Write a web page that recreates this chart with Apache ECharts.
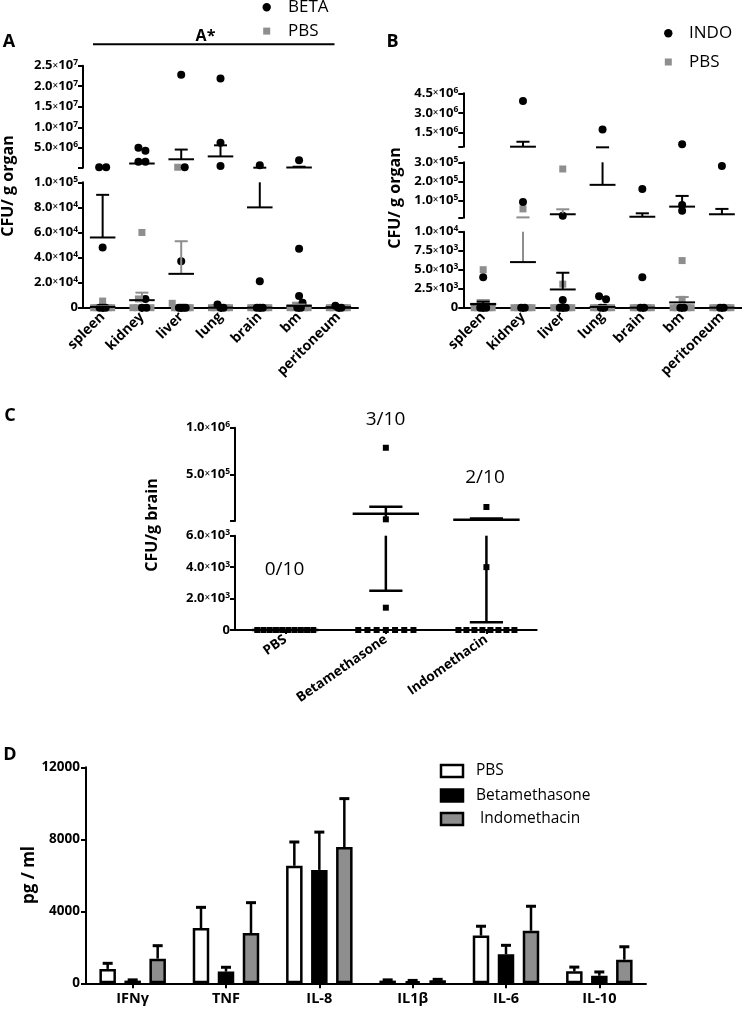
<!DOCTYPE html>
<html><head><meta charset="utf-8">
<script src="https://cdn.jsdelivr.net/npm/echarts@6/dist/echarts.min.js"></script>
<style>html,body{margin:0;padding:0;background:#fff}#c{width:742px;height:1010px}</style>
</head><body><div id="c"></div><script>
// ---------------- DATA ----------------
const organs = ['spleen','kidney','liver','lung','brain','bm','peritoneum'];
// Panel A : BETA (black circles) vs PBS (grey squares), CFU / g organ
const betaA = [
  [2.6e5, 2.6e5, 4.8e4, 0, 0, 0],
  [5.0e6, 4.3e6, 1.6e6, 1.6e6, 7e3, 0, 0],
  [2.28e7, 2.6e5, 3.7e4, 0, 0, 0, 0],
  [2.19e7, 6.2e6, 5.9e5, 2.5e3, 0, 0],
  [7.5e5, 2.1e4, 0, 0, 0],
  [1.95e6, 4.7e4, 9.3e3, 4e3, 0, 0],
  [1.5e3, 0, 0]
];
const pbsA = [
  [5.3e3, 0, 0, 0, 0],
  [6.0e4, 7e3, 0, 0, 0],
  [2.6e5, 3.5e3, 0, 0, 0, 0],
  [0, 0, 0, 0],
  [0, 0, 0, 0],
  [2e3, 0, 0, 0, 0],
  [0, 0, 0, 0]
];
const betaMeanA = [5.6e4, 1.17e6, 2.2e6, 2.9e6, 8.0e4, 2.0e5, 300];
const betaSemA  = [3.4e4, 4.0e5, 2.37e6, 2.7e6, 7.5e4, 1.9e5, 150];
const pbsMeanA  = [600, 6.0e3, 2.7e4, 0, 0, 1.5e3, 0];
const pbsSemA   = [500, 6.0e3, 2.6e4, 0, 0, 1.0e3, 0];

// Panel B : INDO (black circles) vs PBS (grey squares)
const indoB = [
  [4.0e3, 0, 0, 0],
  [3.9e6, 9.2e4, 0, 0],
  [2.05e4, 1.0e3, 0, 0, 0],
  [1.73e6, 1.5e3, 1.1e3, 0, 0],
  [1.6e5, 4.0e3, 0, 0],
  [5.8e5, 7.7e4, 4.7e4, 0, 0],
  [2.8e5, 0, 0]
];
const pbsB = [
  [5.0e3, 0, 0, 0, 0],
  [5.6e4, 0, 0, 0, 0],
  [2.65e5, 3.1e3, 0, 0, 0, 0],
  [0, 0, 0, 0],
  [0, 0, 0, 0],
  [6.2e3, 1.1e3, 0, 0, 0, 0],
  [0, 0, 0, 0]
];
const indoMeanB = [450, 4.0e5, 2.4e3, 1.82e5, 1.5e4, 6.8e4, 2.8e4];
const indoSemB  = [340, 3.8e5, 2.2e3, 1.7e5, 1.8e4, 5.6e4, 2.8e4];
const pbsMeanB  = [500, 6.0e3, 2.8e4, 100, 0, 700, 0];
const pbsSemB   = [500, 5.6e3, 2.6e4, 100, 0, 700, 0];

// Panel C : CFU / g brain
const groupsC = ['PBS','Betamethasone','Indomethacin'];
const brainC = [
  [0, 0, 0, 0, 0, 0, 0, 0, 0, 0],
  [7.85e5, 1.8e4, 1.42e3, 0, 0, 0, 0, 0, 0, 0],
  [1.5e5, 4.0e3, 0, 0, 0, 0, 0, 0, 0, 0]
];
const meanC = [0, 7.8e4, 1.3e4];
const semC  = [0, 7.55e4, 1.25e4];
const fracC = ['0/10', '3/10', '2/10'];

// Panel D : cytokines pg/ml
const cytokines = ['IFNγ','TNF','IL-8','IL1β','IL-6','IL-10'];
const pbsD     = [800, 3070, 6530, 150, 2650, 670];
const pbsSemD  = [310, 1150, 1320, 40, 520, 230];
const betaD    = [150, 650, 6300, 120, 1610, 420];
const betaSemD = [40, 240, 2100, 40, 500, 210];
const indoD    = [1370, 2790, 7570, 170, 2920, 1310];
const indoSemD = [720, 1690, 2690, 50, 1360, 720];

// ---------------- STYLE / LAYOUT ----------------
const FONT = '"Open Sans", "DejaVu Sans", sans-serif';
const GREY = '#8e8e8e';
const chart = echarts.init(document.getElementById('c'), null, {renderer:'canvas'});
const option = {animation:false, backgroundColor:'#fff', grid:[], xAxis:[], yAxis:[], series:[], graphic:[]};

function sciRich(v){
  if (v === 0) return '{m|0}';
  const e = Math.floor(Math.log10(v) + 1e-9);
  const m = v / Math.pow(10, e);
  return '{m|' + m.toFixed(1) + '}{x|×}{m|10}{e|' + e + '}';
}
const richSci = {
  m:{fontFamily:FONT, fontWeight:'bold', fontSize:13, color:'#000', lineHeight:15},
  x:{fontFamily:FONT, fontSize:10, color:'#000', lineHeight:15},
  e:{fontFamily:FONT, fontWeight:'bold', fontSize:8.5, color:'#000', lineHeight:9, verticalAlign:'top'}
};

function segIndexFor(segs, v){
  for (let i = 0; i < segs.length; i++) if (v > segs[i].lo) return i;
  return segs.length - 1;
}

function makeMeanRender(p, segIdx){
  return function(params, api){
    const cs = params.coordSys;
    const c = api.value(0), m = api.value(1), s = api.value(2), g = api.value(3);
    const bw = api.size([1, 0])[0];
    const top = cs.y, bot = cs.y + cs.height;
    const col = p.groups[g].semColor;
    const pm = api.coord([c, m]);
    const x = pm[0];
    const kids = [];
    const own = v => segIndexFor(p.segs, v) === segIdx;
    const hline = (y, w, color) => kids.push({type:'line', shape:{x1:x - w/2, y1:y, x2:x + w/2, y2:y}, style:{stroke:color, lineWidth:p.lineW}});
    const whisker = v => {
      const pe = api.coord([c, v]);
      const a = Math.max(Math.min(pm[1], pe[1]), top), b = Math.min(Math.max(pm[1], pe[1]), bot);
      if (b - a > 0.5) kids.push({type:'line', shape:{x1:x, y1:a, x2:x, y2:b}, style:{stroke:col, lineWidth:p.lineW}});
      if (own(v)) hline(pe[1], bw * p.capW, col);
    };
    if (s > 0) { whisker(m + s); if (p.both) whisker(m - s); }
    if (own(m)) hline(pm[1], bw * p.meanW, '#000');
    return {type:'group', children:kids};
  };
}

const jitterSets = [];
function addPanel(p){
  const gIdx = [];
  p.segs.forEach((s, i) => {
    const gi = option.grid.length;
    gIdx.push(gi);
    option.grid.push(Object.assign({}, s.grid));
    const isBottom = i === p.segs.length - 1;
    option.xAxis.push({
      type:'category', gridIndex:gi, data:p.cats, show:isBottom, boundaryGap:true,
      axisLine:{show:true, onZero:false, lineStyle:{color:'#000', width:2}},
      axisTick:{show:true, alignWithLabel:true, length:4, lineStyle:{color:'#000', width:2}},
      axisLabel:{interval:0, rotate:p.rotate, margin:p.labelMargin, fontFamily:FONT, fontWeight:'bold', fontSize:p.catFont, color:'#000'},
      splitLine:{show:false}
    });
    const ticks = s.labels.indexOf(s.min) >= 0 ? s.labels.slice() : [s.min].concat(s.labels);
    option.yAxis.push({
      type:'value', gridIndex:gi, min:s.min, max:s.max,
      axisLine:{show:true, onZero:false, lineStyle:{color:'#000', width:2}},
      axisTick:{show:true, length:5, customValues:ticks, lineStyle:{color:'#000', width:2}},
      axisLabel:{customValues:s.labels, formatter:sciRich, rich:richSci, margin:5},
      splitLine:{show:false}
    });
  });
  const refs = [];
  p.groups.forEach((g, k) => {
    p.segs.forEach((s, i) => {
      const ser = {type:'scatter', xAxisIndex:gIdx[i], yAxisIndex:gIdx[i], symbol:g.symbol, symbolSize:g.size,
        itemStyle:{color:g.color, opacity:1}, z:g.z, clip:false, silent:true, data:[]};
      option.series.push(ser);
      g.points.forEach((arr, c) => arr.forEach(v => {
        if (segIndexFor(p.segs, v) !== i) return;
        const item = {value:[c, v], symbolOffset:[0, 0]};
        ser.data.push(item);
        refs.push({item:item, c:c, v:v, gi:gIdx[i], grey:g.grey});
      }));
    });
  });
  p.segs.forEach((s, i) => {
    const data = [];
    p.groups.forEach((g, k) => g.mean.forEach((m, c) => data.push([c, m, g.sem[c], k])));
    option.series.push({type:'custom', xAxisIndex:gIdx[i], yAxisIndex:gIdx[i], renderItem:makeMeanRender(p, i),
      data:data, z:6, clip:false, silent:true});
  });
  jitterSets.push({refs:refs, stepMax:p.stepMax, span:p.span});
}

// Panel A
addPanel({
  cats:organs, rotate:45, labelMargin:7, catFont:14, meanW:0.65, capW:0.33, lineW:2, both:false, stepMax:7, span:18,
  segs:[
    {grid:{left:83, top:65.7, width:275, height:102}, min:1.5e5, max:2.5e7, labels:[5e6,1e7,1.5e7,2e7,2.5e7], lo:1e5},
    {grid:{left:83, top:182.3, width:275, height:125.4}, min:0, max:1e5, labels:[0,2e4,4e4,6e4,8e4,1e5], lo:-Infinity}
  ],
  groups:[
    {points:pbsA, mean:pbsMeanA, sem:pbsSemA, color:GREY, semColor:GREY, symbol:'rect', size:7, grey:true, z:2},
    {points:betaA, mean:betaMeanA, sem:betaSemA, color:'#000', semColor:'#000', symbol:'circle', size:8, grey:false, z:3}
  ]
});
// Panel B
addPanel({
  cats:organs, rotate:45, labelMargin:7, catFont:14, meanW:0.65, capW:0.33, lineW:2, both:false, stepMax:7, span:18,
  segs:[
    {grid:{left:463.3, top:93.3, width:278.5, height:53.4}, min:4e5, max:4.5e6, labels:[1.5e6,3e6,4.5e6], lo:3e5},
    {grid:{left:463.3, top:162.3, width:278.5, height:55.4}, min:1e4, max:3e5, labels:[1e5,2e5,3e5], lo:1e4},
    {grid:{left:463.3, top:231.7, width:278.5, height:76}, min:0, max:1e4, labels:[0,2.5e3,5e3,7.5e3,1e4], lo:-Infinity}
  ],
  groups:[
    {points:pbsB, mean:pbsMeanB, sem:pbsSemB, color:GREY, semColor:GREY, symbol:'rect', size:7, grey:true, z:2},
    {points:indoB, mean:indoMeanB, sem:indoSemB, color:'#000', semColor:'#000', symbol:'circle', size:8, grey:false, z:3}
  ]
});
// Panel C
addPanel({
  cats:groupsC, rotate:35, labelMargin:8, catFont:13.5, meanW:0.66, capW:0.33, lineW:2.5, both:true, stepMax:9.2, span:56,
  segs:[
    {grid:{left:235, top:427.7, width:301.7, height:93.3}, min:0, max:1e6, labels:[5e5,1e6], lo:6e3},
    {grid:{left:235, top:535.7, width:301.7, height:94.3}, min:0, max:6e3, labels:[0,2e3,4e3,6e3], lo:-Infinity}
  ],
  groups:[
    {points:brainC, mean:meanC, sem:semC, color:'#000', semColor:'#000', symbol:'rect', size:6, grey:false, z:3}
  ]
});

// Panel D
const gD = option.grid.length;
option.grid.push({left:86, top:767.3, width:560, height:216});
option.xAxis.push({type:'category', gridIndex:gD, data:cytokines, boundaryGap:true,
  axisLine:{show:true, lineStyle:{color:'#000', width:2}},
  axisTick:{show:true, alignWithLabel:true, length:5, lineStyle:{color:'#000', width:2}},
  axisLabel:{interval:0, margin:8, fontFamily:FONT, fontWeight:'bold', fontSize:14.5, color:'#000'}, splitLine:{show:false}});
option.yAxis.push({type:'value', gridIndex:gD, min:0, max:12000, interval:4000,
  axisLine:{show:true, lineStyle:{color:'#000', width:2}},
  axisTick:{show:true, length:5, lineStyle:{color:'#000', width:2}},
  axisLabel:{margin:6, fontFamily:FONT, fontWeight:'bold', fontSize:13.5, color:'#000', formatter:v => String(v)}, splitLine:{show:false}});
const BAR_W = 16.5, BAR_STEP = 25;
const dSeries = [
  {name:'PBS', vals:pbsD, sem:pbsSemD, fill:'#fff'},
  {name:'Betamethasone', vals:betaD, sem:betaSemD, fill:'#000'},
  {name:'Indomethacin', vals:indoD, sem:indoSemD, fill:GREY}
];
dSeries.forEach((d, k) => {
  option.series.push({type:'bar', name:d.name, xAxisIndex:gD, yAxisIndex:gD, data:d.vals, barWidth:BAR_W, barGap:'51.5%',
    itemStyle:{color:d.fill, borderColor:'#000', borderWidth:2.5}, z:2, silent:true});
});
dSeries.forEach((d, k) => {
  option.series.push({type:'custom', xAxisIndex:gD, yAxisIndex:gD, z:3, silent:true,
    data:d.vals.map((v, c) => [c, v, d.sem[c]]),
    renderItem:function(params, api){
      const c = api.value(0), v = api.value(1), s = api.value(2);
      const p0 = api.coord([c, v]), p1 = api.coord([c, v + s]);
      const x = p0[0] + (k - 1) * BAR_STEP;
      return {type:'group', children:[
        {type:'line', shape:{x1:x, y1:p0[1], x2:x, y2:p1[1]}, style:{stroke:'#000', lineWidth:2.5}},
        {type:'line', shape:{x1:x - 5, y1:p1[1], x2:x + 5, y2:p1[1]}, style:{stroke:'#000', lineWidth:3}}
      ]};
    }});
});

// ---------------- GRAPHIC TEXT ----------------
function txt(t, x, y, font, align, rot){
  const o = {type:'text', x:x, y:y, silent:true, style:{text:t, font:font, fill:'#000', textAlign:align || 'center', textVerticalAlign:'middle'}};
  if (rot) o.rotation = rot;
  return o;
}
const BOLD = s => 'bold ' + s + 'px ' + FONT;
const REG = s => s + 'px ' + FONT;
const g = option.graphic;
g.push(txt('A', 9, 42, BOLD(18)));
g.push(txt('B', 392.5, 42, BOLD(18)));
g.push(txt('C', 10, 416, BOLD(18)));
g.push(txt('D', 10, 755, BOLD(18)));
// legend A
g.push({type:'circle', shape:{cx:266.7, cy:7.3, r:4.2}, style:{fill:'#000'}, silent:true});
g.push(txt('BETA', 288, 7.5, REG(17), 'left'));
g.push({type:'rect', shape:{x:263.2, y:27.6, width:7, height:7}, style:{fill:GREY}, silent:true});
g.push(txt('PBS', 288, 31, REG(17), 'left'));
g.push(txt('A*', 205.5, 36, BOLD(16)));
g.push({type:'line', shape:{x1:93, y1:44.3, x2:334.5, y2:44.3}, style:{stroke:'#000', lineWidth:2}, silent:true});
// legend B
g.push({type:'circle', shape:{cx:668.3, cy:33.3, r:4.2}, style:{fill:'#000'}, silent:true});
g.push(txt('INDO', 689, 33.5, REG(17), 'left'));
g.push({type:'rect', shape:{x:664.8, y:58.5, width:7, height:7}, style:{fill:GREY}, silent:true});
g.push(txt('PBS', 689, 62, REG(17), 'left'));
// axis titles
g.push(txt('CFU/ g organ', 8, 186, BOLD(16), 'center', Math.PI / 2));
g.push(txt('CFU/ g organ', 395, 198, BOLD(16), 'center', Math.PI / 2));
g.push(txt('CFU/g brain', 152, 525, BOLD(16), 'center', Math.PI / 2));
g.push(txt('pg / ml', 29, 875, BOLD(17), 'center', Math.PI / 2));
// fractions C
g.push(txt(fracC[0], 284.5, 570, REG(19)));
g.push(txt(fracC[1], 385.5, 420, REG(19)));
g.push(txt(fracC[2], 485, 478, REG(19)));
// legend D
const legY = [771, 795.5, 819];
dSeries.forEach((d, k) => {
  g.push({type:'rect', shape:{x:441, y:legY[k] - 6, width:22, height:12}, style:{fill:d.fill, stroke:'#000', lineWidth:2.5}, silent:true});
  g.push(txt(k === 2 ? ' ' + d.name : d.name, 476, legY[k], REG(15.5), 'left'));
});

chart.setOption(option);

// ---------------- JITTER (computed from pixel positions) ----------------
jitterSets.forEach(js => {
  const byCat = {};
  js.refs.forEach(r => {
    r.y = chart.convertToPixel({gridIndex:r.gi}, [r.c, r.v])[1];
    (byCat[r.c] = byCat[r.c] || []).push(r);
  });
  Object.keys(byCat).forEach(key => {
    const list = byCat[key].sort((a, b) => a.y - b.y);
    const clusters = [];
    let cur = null;
    list.forEach(r => {
      if (cur && Math.abs(r.y - cur[0].y) < 5) cur.push(r);
      else { cur = [r]; clusters.push(cur); }
    });
    clusters.forEach(cl => {
      const k = cl.length;
      if (k < 2) return;
      const greys = cl.filter(r => r.grey), blacks = cl.filter(r => !r.grey);
      const h = Math.ceil(greys.length / 2);
      const ordered = greys.slice(0, h).concat(blacks, greys.slice(h));
      const step = Math.min(js.stepMax, js.span / (k - 1));
      ordered.forEach((r, j) => { r.item.symbolOffset = [(j - (k - 1) / 2) * step, 0]; });
    });
  });
});
chart.setOption(option);
</script></body></html>
